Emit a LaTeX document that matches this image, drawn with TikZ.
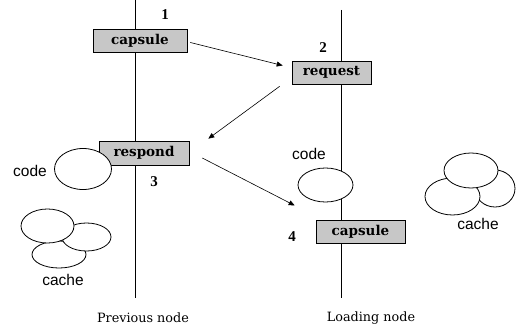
\documentclass[tikz,border=0pt]{standalone}
\usepackage{fontspec}
\setmainfont{Liberation Serif}
\newfontfamily\boxfont{DejaVu Serif}
\newfontfamily\lblsans{Liberation Sans}
\usetikzlibrary{arrows.meta}
\tikzset{
  msgbox/.style={draw=black, line width=0.6pt, fill=black!22, inner sep=0pt,
    minimum height=23pt, font=\boxfont\bfseries\fontsize{13.5}{15}\selectfont},
  numlbl/.style={font=\bfseries\fontsize{15}{17}\selectfont, inner sep=0pt},
  sanslbl/.style={font=\lblsans\fontsize{15.5}{17}\selectfont, inner sep=0pt},
  footlbl/.style={font=\boxfont\fontsize{12.8}{14}\selectfont, inner sep=0pt},
  ell/.style={draw=black, line width=0.8pt, fill=white},
  timeline/.style={draw=black, line width=0.8pt},
  arr/.style={draw=black, line width=0.6pt, -{Triangle[width=5pt,length=6pt]}}
}
\begin{document}
\begin{tikzpicture}[x=1pt,y=-1pt]
\useasboundingbox (0,0) rectangle (517,329);
% timelines
\coordinate (ltop) at (135,0);
\coordinate (lbot) at (135,298);
\coordinate (rtop) at (341,10);
\coordinate (rbot) at (341,298);
\draw[timeline] (ltop) -- (lbot);
\draw[timeline] (rtop) -- (rbot);
% boxes
\node[msgbox, minimum width=94pt] (cap1) at (140,40.5) {capsule};
\node[msgbox, minimum width=79pt] (req) at (331.5,72.5) {request};
\node[msgbox, minimum width=90pt, minimum height=24pt] (resp) at (144,153) {respond};
\node[msgbox, minimum width=89pt] (cap4) at (360.5,231.5) {capsule};
% numbers
\node[numlbl] (n1) at (165,15) {1};
\node[numlbl] (n2) at (323,48) {2};
\node[numlbl] (n3) at (154,182) {3};
\node[numlbl] (n4) at (292,237) {4};
% code ellipses
\draw[ell] (83,169) ellipse [x radius=28.5pt, y radius=20.5pt];
\node[sanslbl] (codeL) at (30,171) {code};
\draw[ell] (325.5,185) ellipse [x radius=27.5pt, y radius=17pt];
\node[sanslbl] (codeR) at (309,154) {code};
% left cache
\draw[ell] (59,254.5) ellipse [x radius=27pt, y radius=13.5pt];
\draw[ell] (86.5,237) ellipse [x radius=24.5pt, y radius=14pt];
\draw[ell] (47.5,226) ellipse [x radius=26.5pt, y radius=17pt];
\node[sanslbl] (cacheL) at (63,280) {cache};
% right cache
\draw[ell] (495,188.5) ellipse [x radius=20pt, y radius=18.5pt];
\draw[ell] (452.5,196.5) ellipse [x radius=27.5pt, y radius=18.5pt];
\draw[ell] (471,170.5) ellipse [x radius=27pt, y radius=17.5pt];
\node[sanslbl] (cacheR) at (478,224) {cache};
% footer labels
\node[footlbl] (prev) at (143,318) {Previous node};
\node[footlbl] (load) at (371,318) {Loading node};
% arrows
\draw[arr] ([shift={(3,2)}]cap1.east) -- ([shift={(-9,-7)}]req.west);
\draw[arr] ([shift={(-12,2)}]req.south west) -- ([shift={(19,-2)}]resp.north east);
\draw[arr] ([shift={(13,5)}]resp.east) -- ([shift={(-21,-26)}]cap4.west);
\end{tikzpicture}
\end{document}
